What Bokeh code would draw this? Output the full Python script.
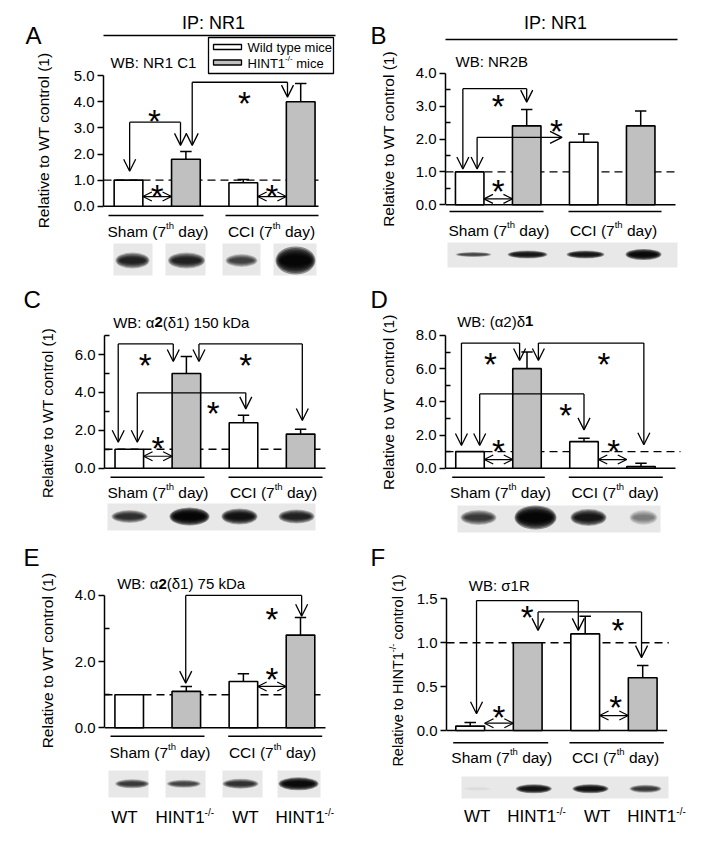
import math
from bokeh.plotting import figure
from bokeh.models import Range1d, FixedTicker, PrintfTickFormatter, Arrow, OpenHead
from bokeh.layouts import column, row
from bokeh.embed import file_html
from bokeh.resources import INLINE
from bokeh.core.properties import value

FONT = "Liberation Sans"
GREY = "#c0c0c0"

# ---------------- data ----------------
groups = ["Sham", "CCI"]
genotypes = ["WT", "HINT1"]
REF_LEVEL = 1.0

A_wt = [1.0, 0.9];  A_wt_err = [0.0, 0.12]
A_ko = [1.8, 4.0];  A_ko_err = [0.3, 0.7]
B_wt = [1.0, 1.9];  B_wt_err = [0.0, 0.25]
B_ko = [2.4, 2.4];  B_ko_err = [0.5, 0.45]
C_wt = [1.0, 2.4];  C_wt_err = [0.0, 0.4]
C_ko = [5.0, 1.8];  C_ko_err = [0.9, 0.25]
D_wt = [1.0, 1.6];  D_wt_err = [0.0, 0.2]
D_ko = [6.0, 0.1];  D_ko_err = [1.0, 0.2]
E_wt = [1.0, 1.4];  E_wt_err = [0.0, 0.23]
E_ko = [1.1, 2.8];  E_ko_err = [0.15, 0.53]
F_wt = [0.05, 1.1]; F_wt_err = [0.04, 0.2]
F_ko = [1.0, 0.6];  F_ko_err = [0.0, 0.14]

A_ticks = [0, 1, 2, 3, 4, 5];       A_minor = []
B_ticks = [0, 1, 2, 3, 4];          B_minor = [0.5, 1.5, 2.5, 3.5]
C_ticks = [0, 2, 4, 6];             C_minor = [1, 3, 5, 7]
D_ticks = [0, 2, 4, 6, 8];          D_minor = [1, 3, 5, 7]
E_ticks = [0, 2, 4];                E_minor = [1, 3]
F_ticks = [0, 0.5, 1.0, 1.5];       F_minor = []

# blot band intensities (0..1) per lane
A_blot = [0.85, 0.85, 0.72, 0.98]
B_blot = [0.70, 0.90, 0.90, 0.95]
C_blot = [0.80, 0.98, 0.92, 0.85]
D_blot = [0.75, 0.99, 0.90, 0.45]
E_blot = [0.75, 0.70, 0.78, 0.95]
F_blot = [0.06, 0.92, 0.92, 0.75]

# significance annotations (bar-index x, value y)
A_br = [(1.02, 1.34, 1.906, 2.33, 3.22), (2.11, 2.33, 3.77, 4.18, 4.75)]
A_dbl = [(1, 2, 0.37), (3, 4, 0.37)]
A_st = [(1.45, 3.55), (3.02, 4.24), (1.5, 0.68), (3.5, 0.68)]
B_br = [(0.88, 1.09, 2.0, 3.12, 3.53)]
B_hz = [(1.13, 1.09, 2.05, 2.62)]
B_dbl = [(1, 2, 0.18)]
B_st = [(1.5, 3.22), (2.52, 2.47), (1.5, 0.64)]
C_br = [(0.806, 1.37, 1.77, 5.63, 6.56), (2.22, 5.63, 4.03, 2.52, 6.56), (1.14, 1.37, 3.04, 3.13, 3.98)]
C_dbl = [(1, 2, 0.63)]
C_st = [(1.28, 5.8), (3.04, 5.8), (2.47, 3.31), (1.5, 1.46)]
D_br = [(0.85, 1.37, 1.87, 6.49, 7.54), (2.2, 6.49, 4.05, 1.41, 7.54), (1.17, 1.37, 3.0, 2.31, 4.48)]
D_dbl = [(1, 2, 0.52), (3, 4, 0.52)]
D_st = [(1.36, 6.69), (3.35, 6.73), (2.68, 3.62), (1.5, 1.47), (3.52, 1.47)]
E_br = [(1.99, 1.35, 4.02, 3.37, 4.0)]
E_dbl = [(3, 4, 1.25)]
E_st = [(3.5, 3.51), (3.5, 1.68)]
F_br = [(1.11, 0.19, 2.88, 1.14, 1.48), (2.18, 1.14, 3.98, 0.83, 1.35)]
F_dbl = [(1, 2, 0.083), (3, 4, 0.17)]
F_st = [(1.99, 1.37), (3.57, 1.23), (1.5, 0.23), (3.53, 0.35)]

# ---------------- layout (page pixels) ----------------
LAYOUT = {
    'A': dict(left=0, top=0, w=357, h=285, lw=60, axis_x=103.3, y0=205.7, sy=26.1, c1=128.0, sx=57.4),
    'B': dict(left=357, top=0, w=349, h=285, lw=43, axis_x=445.0, y0=204.3, sy=32.9, c1=469.2, sx=57.0),
    'C': dict(left=0, top=285, w=357, h=260, lw=60, axis_x=104.3, y0=467.7, sy=18.95, c1=128.8, sx=57.1),
    'D': dict(left=357, top=285, w=349, h=260, lw=43, axis_x=445.0, y0=467.7, sy=16.59, c1=469.5, sx=57.0),
    'E': dict(left=0, top=545, w=357, h=300, lw=60, axis_x=104.3, y0=727.3, sy=33.1, c1=128.7, sx=57.1),
    'F': dict(left=357, top=545, w=349, h=300, lw=53, axis_x=445.7, y0=730.0, sy=87.8, c1=469.7, sx=57.5),
}

AW = {' ': 278, '(': 333, ')': 333, '-': 333, '/': 278, ':': 278, '.': 278, '*': 389,
      'A': 667, 'B': 667, 'C': 722, 'D': 722, 'E': 667, 'F': 611, 'H': 722, 'I': 278, 'N': 722,
      'P': 667, 'R': 722, 'S': 667, 'T': 611, 'W': 944,
      'a': 556, 'c': 500, 'd': 556, 'e': 556, 'h': 556, 'i': 222, 'k': 500, 'l': 222, 'm': 833,
      'n': 556, 'o': 556, 'p': 556, 'r': 333, 't': 278, 'v': 500, 'y': 500,
      'α': 578, 'δ': 556, 'σ': 620}


def aw(s, size):
    return sum(AW.get(c, 556) for c in s) / 1000.0 * size


def bare(p):
    p.outline_line_color = None
    p.background_fill_color = "white"
    p.border_fill_color = "white"


class PixelSpace:
    """Side strip for panel letter and rotated axis title, in page pixels."""
    def __init__(self, left, top, w, h):
        self.p = figure(width=w, height=h, x_range=Range1d(left, left + w),
                        y_range=Range1d(top + h, top), output_backend="svg",
                        toolbar_location=None, x_axis_location=None, y_axis_location=None,
                        min_border_left=0, min_border_right=0, min_border_top=0,
                        min_border_bottom=0, title=None)
        self.p.grid.visible = False
        bare(self.p)

    def X(self, px):
        return px

    def Y(self, py):
        return py


class Panel:
    def __init__(self, left, top, w, h, lw, axis_x, y0, sy, c1, sx, ymax, ticks, minor):
        self.lab = PixelSpace(left, top, lw, h)
        mleft = left + lw
        mw = w - lw
        self.bl = int(round(axis_x - mleft))
        ax = mleft + self.bl
        self.ax, self.y0, self.sy, self.c1, self.sx = ax, y0, sy, c1, sx
        x0 = 1 - (c1 - ax) / sx
        x1 = x0 + (mw - self.bl) / sx
        ys = (y0 - (top + h)) / sy
        ye = (y0 - top) / sy
        p = figure(width=mw, height=h, x_range=Range1d(x0, x1), y_range=Range1d(ys, ye),
                   output_backend="svg", toolbar_location=None, x_axis_location=None,
                   min_border_left=self.bl, min_border_right=0, min_border_top=0,
                   min_border_bottom=0, title=None)
        p.grid.visible = False
        bare(p)
        ya = p.yaxis[0]
        ya.bounds = (0, ymax)
        ya.ticker = FixedTicker(ticks=ticks, minor_ticks=minor)
        ya.formatter = PrintfTickFormatter(format="%.1f")
        ya.axis_line_width = 1.5
        ya.axis_line_color = "black"
        ya.major_tick_line_width = 1.5
        ya.minor_tick_line_width = 1.5
        ya.major_tick_in = 0
        ya.major_tick_out = 6
        ya.minor_tick_in = 5
        ya.minor_tick_out = 0
        ya.major_label_text_font = FONT
        ya.major_label_text_font_size = "15px"
        ya.major_label_text_color = "black"
        ya.major_label_standoff = 3
        self.p = p

    def X(self, px):
        return 1 + (px - self.c1) / self.sx

    def Y(self, py):
        return (self.y0 - py) / self.sy


def rich(P, pieces, x_px, yc_px, align="left"):
    """pieces: (text, size, raise_px, bold); yc_px is the visual centre of the main text."""
    total = sum(aw(t, s) for t, s, r, b in pieces)
    cur = x_px - total / 2 if align == "center" else x_px
    for t, s, r, b in pieces:
        w = aw(t, s)
        lead = len(t) - len(t.lstrip(' '))
        tt = t.strip(' ')
        x = cur + aw(' ', s) * lead
        if tt:
            P.p.text(x=[P.X(x)], y=[P.Y(yc_px - r)], text=[tt], text_font=value(FONT),
                     text_font_size=f"{s}px", text_align="left", text_baseline="middle",
                     text_color="black", text_font_style="bold" if b else "normal")
        cur += w


def vlabel(S, pieces, cx, cy):
    total = sum(aw(t, s) for t, s, r in pieces)
    cur = cy + total / 2
    for t, s, r in pieces:
        w = aw(t, s)
        lead = len(t) - len(t.lstrip(' '))
        tt = t.strip(' ')
        y = cur - aw(' ', s) * lead
        S.p.text(x=[cx - r], y=[y], text=[tt], angle=math.pi / 2, text_align="left",
                 text_baseline="middle", text_font=value(FONT), text_font_size=f"{s}px",
                 text_color="black")
        cur -= w


def letter(S, t, x_px, yc_px):
    S.p.text(x=[x_px], y=[yc_px], text=[t], text_align="left", text_baseline="middle",
             text_font=value(FONT), text_font_size="24px", text_color="black")


def hline(P, x_a, x_b, y_px, width=1.5):
    P.p.add_layout(Arrow(end=None, x_start=P.X(x_a), y_start=P.Y(y_px), x_end=P.X(x_b),
                         y_end=P.Y(y_px), line_width=width, line_color="black"))


def base_and_ref(P, base_end, dash_end):
    p = P.p
    p.segment(x0=[P.X(P.ax)], y0=[REF_LEVEL], x1=[P.X(dash_end)], y1=[REF_LEVEL],
              line_color="black", line_width=1.4, line_dash="8 5")
    p.segment(x0=[P.X(P.ax)], y0=[0], x1=[P.X(base_end)], y1=[0],
              line_color="black", line_width=1.5)


def bars(P, wt, wt_err, ko, ko_err):
    p = P.p
    xs = [1, 2, 3, 4]
    tops = [wt[0], ko[0], wt[1], ko[1]]
    errs = [wt_err[0], ko_err[0], wt_err[1], ko_err[1]]
    colors = ["white", GREY, "white", GREY]
    ex = [x for x, e in zip(xs, errs) if e > 0]
    et = [t for t, e in zip(tops, errs) if e > 0]
    ee = [t + e for t, e in zip(tops, errs) if e > 0]
    p.segment(x0=ex, y0=et, x1=ex, y1=ee, line_color="black", line_width=1.5)
    p.segment(x0=[x - 0.1 for x in ex], y0=ee, x1=[x + 0.1 for x in ex], y1=ee,
              line_color="black", line_width=1.5)
    p.vbar(x=xs, top=tops, bottom=0, width=0.5, fill_color=colors, line_color="black",
           line_width=1.6)


def sig(P, brs, dbls, sts, hz=()):
    p = P.p
    for x1, t1, x2, t2, top in brs:
        p.segment(x0=[x1], y0=[top], x1=[x2], y1=[top], line_color="black", line_width=1.3)
        for x, t in ((x1, t1), (x2, t2)):
            p.add_layout(Arrow(end=OpenHead(size=12, line_width=1.3), x_start=x, y_start=top,
                               x_end=x, y_end=t, line_width=1.3))
    for x1, t1, top, xe in hz:
        p.add_layout(Arrow(end=OpenHead(size=12, line_width=1.3), x_start=x1, y_start=top,
                           x_end=x1, y_end=t1, line_width=1.3))
        p.add_layout(Arrow(end=OpenHead(size=12, line_width=1.3), x_start=x1, y_start=top,
                           x_end=xe, y_end=top, line_width=1.3))
    for i, j, y in dbls:
        p.add_layout(Arrow(start=OpenHead(size=9, line_width=1.2), end=OpenHead(size=9, line_width=1.2),
                           x_start=i + 0.25, y_start=y, x_end=j - 0.25, y_end=y, line_width=1.2))
    fs = 33
    p.text(x=[x for x, y in sts], y=[y - 0.23 * fs / P.sy for x, y in sts],
           text=["*"] * len(sts), text_font=value(FONT), text_font_size=f"{fs}px",
           text_align="center", text_baseline="middle", text_color="black")


def groups_draw(P, yline, segs, ylab, centers):
    for a, b in segs:
        P.p.segment(x0=[P.X(a)], y0=[P.Y(yline)], x1=[P.X(b)], y1=[P.Y(yline)],
                    line_color="black", line_width=1.5)
    for g, c in zip(groups, centers):
        rich(P, [(g + " (7", 15.5, 0, False), ("th", 9.5, 6, False), (" day)", 15.5, 0, False)],
             c, ylab, "center")


def blot(P, boxes, ytop, ybot, cx, cy, inten, bw, bh):
    p = P.p
    for a, b in boxes:
        p.quad(left=[P.X(a)], right=[P.X(b)], top=[P.Y(ytop)], bottom=[P.Y(ybot)],
               fill_color="#e8e8e8", line_color=None)
    n = 7
    for k in range(n):
        s = 1 - k * 0.11
        for x, I, w, h in zip(cx, inten, bw, bh):
            a = 1 - (1 - min(I, 0.97)) ** (1.0 / n)
            p.ellipse(x=[P.X(x)], y=[P.Y(cy)], width=[w * (0.6 + 0.4 * s) / P.sx],
                      height=[h * s / P.sy], fill_color="black", fill_alpha=a, line_color=None)


def bottom_labels(P, yc, wt_centers, ko_lefts):
    for c in wt_centers:
        rich(P, [(genotypes[0], 17, 0, False)], c, yc, "center")
    for l in ko_lefts:
        rich(P, [(genotypes[1], 17, 0, False), ("-/-", 10, 5, False)], l, yc)


def make(key, ymax, ticks, minor):
    return Panel(**LAYOUT[key], ymax=ymax, ticks=ticks, minor=minor)


# ---------------- Panel A ----------------
PA = make('A', 5, A_ticks, A_minor)
base_and_ref(PA, 318, 318)
bars(PA, A_wt, A_wt_err, A_ko, A_ko_err)
sig(PA, A_br, A_dbl, A_st)
groups_draw(PA, 215, [(108, 203), (225, 318)], 231, [157.5, 271])
blot(PA, [(113, 152), (165, 205), (222, 260), (273, 316)], 243, 275,
     [132, 186, 241, 295], 260, A_blot, [34, 37, 32, 40], [16, 16, 13, 28])
letter(PA.lab, "A", 25, 35)
rich(PA, [("IP: NR1", 18, 0, False)], 213, 22, "center")
hline(PA, 93, 335, 35)
pa = PA.p
pa.quad(left=[PA.X(208)], right=[PA.X(333)], top=[PA.Y(37)], bottom=[PA.Y(73)],
        fill_color="white", line_color="black", line_width=1.3)
pa.quad(left=[PA.X(213)], right=[PA.X(241)], top=[PA.Y(44)], bottom=[PA.Y(49)],
        fill_color="white", line_color="black", line_width=1.3)
pa.quad(left=[PA.X(213)], right=[PA.X(241)], top=[PA.Y(59.5)], bottom=[PA.Y(64.5)],
        fill_color=GREY, line_color="black", line_width=1.3)
rich(PA, [("Wild type mice", 13, 0, False)], 247, 46.7)
rich(PA, [("HINT1", 13, 0, False), ("-/-", 8, 5, False), (" mice", 13, 0, False)], 247, 62.7)
rich(PA, [("WB: NR1 C1", 15, 0, False)], 110, 62)
vlabel(PA.lab, [("Relative to WT control (1)", 15.5, 0)], 43, 140)

# ---------------- Panel B ----------------
PB = make('B', 4, B_ticks, B_minor)
base_and_ref(PB, 675, 675)
bars(PB, B_wt, B_wt_err, B_ko, B_ko_err)
sig(PB, B_br, B_dbl, B_st, B_hz)
groups_draw(PB, 211, [(449, 543), (568, 661)], 230, [498.5, 613])
blot(PB, [(447, 677)], 242, 267, [473, 527, 585, 643], 254, B_blot,
     [36, 40, 38, 36], [5, 8, 8, 11])
letter(PB.lab, "B", 370, 35)
rich(PB, [("IP: NR1", 18, 0, False)], 555, 22, "center")
hline(PB, 437, 677, 39)
rich(PB, [("WB: NR2B", 15, 0, False)], 455, 61)
vlabel(PB.lab, [("Relative to WT control (1)", 15.5, 0)], 388.3, 138.5)

# ---------------- Panel C ----------------
PC = make('C', 7, C_ticks, C_minor)
base_and_ref(PC, 325, 325)
bars(PC, C_wt, C_wt_err, C_ko, C_ko_err)
sig(PC, C_br, C_dbl, C_st)
groups_draw(PC, 476.7, [(110, 204), (228, 322)], 492.3, [157.5, 273])
blot(PC, [(107, 315)], 503, 530, [129, 189, 239, 296], 516, C_blot,
     [36, 40, 36, 36], [13, 18, 16, 14])
letter(PC.lab, "C", 23, 298.5)
rich(PC, [("WB: α", 15, 0, False), ("2", 15, 0, True), ("(δ1) 150 kDa", 15, 0, False)], 112.7, 321.7)
vlabel(PC.lab, [("Relative to WT control (1)", 15, 0)], 46.7, 412.5)

# ---------------- Panel D ----------------
PD = make('D', 8, D_ticks, D_minor)
base_and_ref(PD, 675, 680)
bars(PD, D_wt, D_wt_err, D_ko, D_ko_err)
sig(PD, D_br, D_dbl, D_st)
groups_draw(PD, 476.7, [(451.7, 544.3), (568.3, 662.3)], 491.7, [500, 614.5])
blot(PD, [(457, 660)], 505, 532, [478, 535, 588, 643], 517, D_blot,
     [36, 42, 36, 28], [15, 24, 17, 15])
letter(PD.lab, "D", 370, 298.5)
rich(PD, [("WB: (α2)δ", 15, 0, False), ("1", 15, 0, True)], 456.7, 320.7)
vlabel(PD.lab, [("Relative to WT control (1)", 15.5, 0)], 388.3, 401.7)

# ---------------- Panel E ----------------
PE = make('E', 4, E_ticks, E_minor)
base_and_ref(PE, 325, 325)
bars(PE, E_wt, E_wt_err, E_ko, E_ko_err)
sig(PE, E_br, E_dbl, E_st)
groups_draw(PE, 735.7, [(110, 204), (227.7, 321.7)], 751.7, [159.5, 272])
blot(PE, [(108, 148), (165, 205), (222, 262), (277, 320)], 770, 797,
     [131.7, 183.3, 240, 298], 783.3, E_blot, [34, 34, 36, 40], [9, 8, 10, 13])
bottom_labels(PE, 816.7, [124, 245], [155, 275])
letter(PE.lab, "E", 23, 556.5)
rich(PE, [("WB: α", 15, 0, False), ("2", 15, 0, True), ("(δ1) 75 kDa", 15, 0, False)], 116.7, 583.3)
vlabel(PE.lab, [("Relative to WT control (1)", 15.5, 0)], 46.7, 660)

# ---------------- Panel F ----------------
PF = make('F', 1.5, F_ticks, F_minor)
base_and_ref(PF, 666.7, 668.3)
bars(PF, F_wt, F_wt_err, F_ko, F_ko_err)
sig(PF, F_br, F_dbl, F_st)
groups_draw(PF, 742.3, [(452.7, 547.7), (569, 663.3)], 757.3, [501.3, 615])
blot(PF, [(461, 668)], 776, 798, [476.7, 533.3, 590, 645], 788.3, F_blot,
     [30, 36, 36, 32], [5, 9, 9, 8])
bottom_labels(PF, 815.7, [476.7, 596.7], [506.7, 626.7])
letter(PF.lab, "F", 370, 556.5)
rich(PF, [("WB: σ1R", 15, 0, False)], 468.3, 585)
vlabel(PF.lab, [("Relative to HINT1", 14.5, 0), ("-/-", 9, 5), (" control (1)", 14.5, 0)], 397, 670)

layout = column(row(PA.lab.p, PA.p, PB.lab.p, PB.p),
                row(PC.lab.p, PC.p, PD.lab.p, PD.p),
                row(PE.lab.p, PE.p, PF.lab.p, PF.p))
open("out.html", "w").write(file_html(layout, INLINE))
